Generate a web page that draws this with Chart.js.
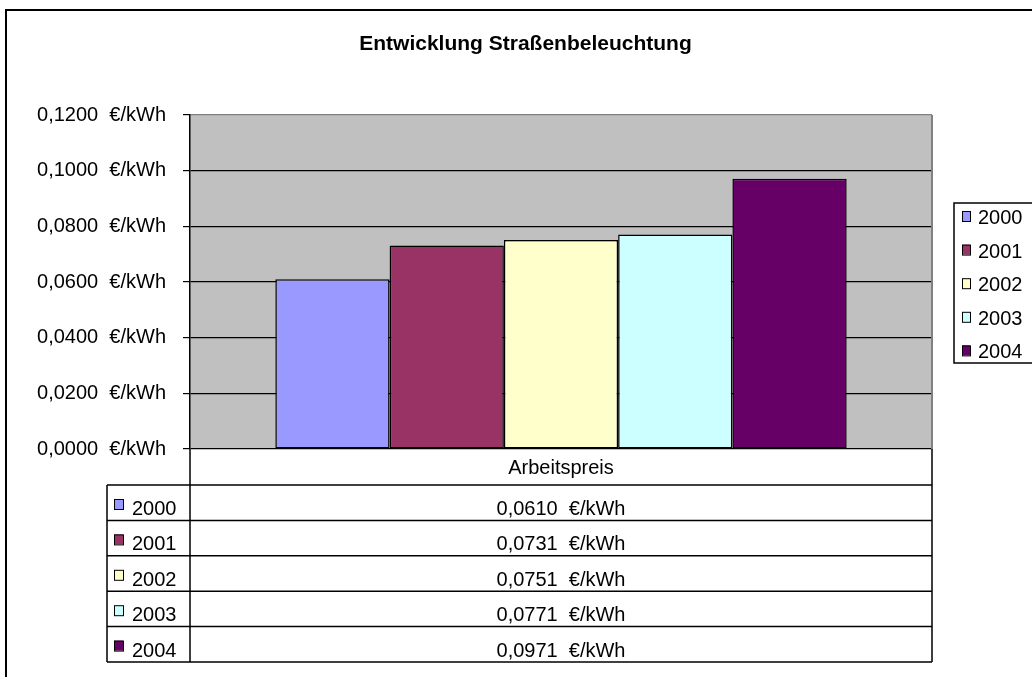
<!DOCTYPE html>
<html><head><meta charset="utf-8">
<script src="https://cdn.jsdelivr.net/npm/chart.js@4.4.1/dist/chart.umd.min.js"></script>
<style>html,body{margin:0;padding:0;background:#fff;overflow:hidden}#wrap{width:1032px;height:677px;position:relative}</style>
</head><body><div id="wrap"><canvas id="c" width="1032" height="677"></canvas></div>
<script>
const chartTitle = 'Entwicklung Straßenbeleuchtung';
const categories = ['Arbeitspreis'];
const seriesNames = ['2000', '2001', '2002', '2003', '2004'];
const seriesValues = [0.0610, 0.0731, 0.0751, 0.0771, 0.0971];
const yTickValues = [0, 0.02, 0.04, 0.06, 0.08, 0.10, 0.12];
const unitLabel = '€/kWh';
const seriesColors = ['#9999FF', '#993366', '#FFFFCC', '#CCFFFF', '#660066'];

const FONT = '"Liberation Sans", Arial, sans-serif';
function fmt(v) { return v.toFixed(4).replace('.', ',') + '  ' + unitLabel; }

const decor = {
  id: 'decor',
  beforeDraw(chart) {
    const ctx = chart.ctx, a = chart.chartArea;
    ctx.save();
    ctx.fillStyle = '#fff';
    ctx.fillRect(0, 0, chart.width, chart.height);
    ctx.fillStyle = '#C0C0C0';
    ctx.fillRect(a.left, a.top, a.right - a.left, a.bottom - a.top);
    ctx.restore();
  },
  afterDraw(chart) {
    const ctx = chart.ctx, a = chart.chartArea;
    ctx.save();
    // right plot border
    ctx.strokeStyle = '#808080'; ctx.lineWidth = 2;
    ctx.beginPath(); ctx.moveTo(a.right, a.top); ctx.lineTo(a.right, a.bottom); ctx.stroke();

    // data table
    const L = a.left, R = a.right, T = a.bottom;
    const headH = 36, rowH = 35.4, labelLeft = 107;
    const B = T + headH + seriesNames.length * rowH;
    ctx.strokeStyle = '#000'; ctx.lineWidth = 1.5;
    ctx.beginPath();
    ctx.moveTo(L, T); ctx.lineTo(L, B);
    ctx.moveTo(R, T); ctx.lineTo(R, B);
    ctx.moveTo(labelLeft, T + headH); ctx.lineTo(labelLeft, B);
    for (let i = 0; i <= seriesNames.length; i++) {
      const y = T + headH + i * rowH;
      ctx.moveTo(labelLeft, y); ctx.lineTo(R, y);
    }
    ctx.stroke();
    ctx.fillStyle = '#000';
    ctx.font = '20px ' + FONT;
    ctx.textBaseline = 'alphabetic';
    ctx.textAlign = 'center';
    ctx.fillText(categories[0], (L + R) / 2, T + 25);
    seriesNames.forEach((n, i) => {
      const y0 = T + headH + i * rowH;
      ctx.fillStyle = seriesColors[i];
      ctx.fillRect(labelLeft + 7, y0 + 14, 9, 10);
      ctx.strokeStyle = '#000'; ctx.lineWidth = 1;
      ctx.strokeRect(labelLeft + 7.5, y0 + 14.5, 9, 10);
      ctx.fillStyle = '#000';
      ctx.textAlign = 'left';
      ctx.fillText(n, labelLeft + 25, y0 + 30);
      ctx.textAlign = 'center';
      ctx.fillText(fmt(seriesValues[i]), (L + R) / 2, y0 + 30);
    });

    // legend
    const lx = 954, ly = 203, lstep = 33.6;
    ctx.strokeStyle = '#000'; ctx.lineWidth = 1.5;
    ctx.strokeRect(lx, ly, 200, 160);
    ctx.textAlign = 'left';
    seriesNames.forEach((n, i) => {
      const cy = ly + 14 + i * lstep;
      ctx.fillStyle = seriesColors[i];
      ctx.fillRect(lx + 8, cy - 6, 8, 10);
      ctx.strokeStyle = '#000'; ctx.lineWidth = 1;
      ctx.strokeRect(lx + 8.5, cy - 5.5, 8, 10);
      ctx.fillStyle = '#000';
      ctx.fillText(n, lx + 24, cy + 7);
    });

    // title
    ctx.font = 'bold 21px ' + FONT;
    ctx.textAlign = 'center';
    ctx.fillText(chartTitle, 525.5, 50);

    // outer frame
    ctx.strokeStyle = '#000'; ctx.lineWidth = 2;
    ctx.strokeRect(6, 10, 2000, 2000);
    ctx.restore();
  }
};

new Chart(document.getElementById('c'), {
  type: 'bar',
  data: {
    labels: categories,
    datasets: seriesNames.map((n, i) => ({
      label: n,
      data: [seriesValues[i]],
      backgroundColor: seriesColors[i],
      borderColor: '#000',
      borderWidth: 1.5,
      borderSkipped: false,
      categoryPercentage: 0.77,
      barPercentage: 1
    }))
  },
  options: {
    responsive: false,
    animation: false,
    devicePixelRatio: 1,
    layout: { padding: { top: 115, left: 0, right: 100, bottom: 228 } },
    plugins: { legend: { display: false }, title: { display: false }, tooltip: { enabled: false } },
    scales: {
      x: { display: false },
      y: {
        min: 0, max: 0.12,
        afterBuildTicks: s => { s.ticks = yTickValues.map(v => ({ value: v })); },
        afterFit: s => { s.width = 190; },
        ticks: { callback: v => fmt(v), font: { family: FONT, size: 20 }, color: '#000', padding: 17 },
        grid: {
          color: ctx => (ctx.tick && ctx.tick.value === 0.12) ? '#808080' : '#000',
          lineWidth: 1.2, tickLength: 7, tickColor: '#000', tickWidth: 1.2, drawTicks: true
        },
        border: { display: true, color: '#000', width: 1.5 }
      }
    }
  },
  plugins: [decor]
});
</script>
</body></html>
